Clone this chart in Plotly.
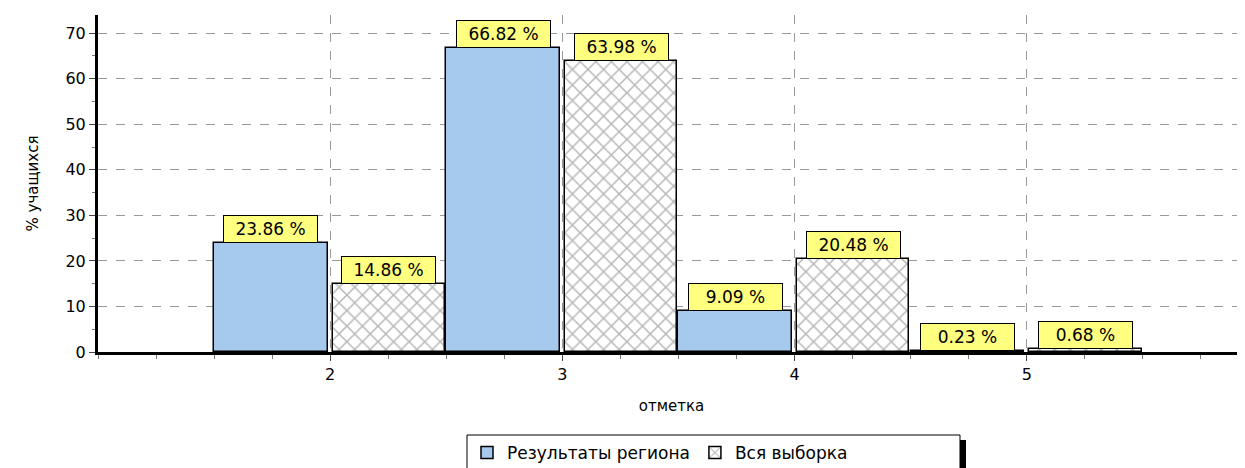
import plotly.graph_objects as go

categories = [2, 3, 4, 5]
region_values = [23.86, 66.82, 9.09, 0.23]
sample_values = [14.86, 63.98, 20.48, 0.68]
region_name = "Результаты региона"
sample_name = "Вся выборка"
y_ticks = [0, 10, 20, 30, 40, 50, 60, 70]

FONT = "DejaVu Sans, Liberation Sans, Arial, sans-serif"
BAR_W = 0.49
OFF = 8  # page body margin
W, H = 1245 - OFF, 468 - OFF
L, T = 98 - OFF, 15 - OFF
Y0 = 352 - OFF  # bottom of plot area in figure px
B = H - Y0
PW, PH = W - L, Y0 - T


def px_x(sx):
    return (sx - OFF - L) / PW


def px_y(sy):
    return (Y0 - (sy - OFF)) / PH


fig = go.Figure()
fig.add_trace(go.Bar(
    x=categories, y=region_values, name=region_name,
    width=BAR_W, offset=-0.5,
    marker=dict(color="#A6C9EE", line=dict(color="black", width=1.5)),
))
fig.add_trace(go.Bar(
    x=categories, y=sample_values, name=sample_name,
    width=BAR_W - 0.005, offset=0.01,
    marker=dict(color="white", line=dict(color="black", width=1.5),
                pattern=dict(shape="x", fgcolor="#6e6e6e", bgcolor="white",
                             size=11, solidity=0.25)),
))


def add_label(xc, v):
    fig.add_annotation(x=xc, y=v, text=f"{v:.2f} %",
                       showarrow=False, yanchor="bottom", yshift=0,
                       bgcolor="#FFFF80", bordercolor="black", borderwidth=1,
                       borderpad=2, width=89, height=22,
                       font=dict(family=FONT, size=17, color="black"))


for c, v in zip(categories, region_values):
    add_label(c - 0.5 + BAR_W / 2, v)
for c, v in zip(categories, sample_values):
    add_label(c + 0.01 + (BAR_W - 0.005) / 2, v)

# legend frame and shadow
fig.add_shape(type="rect", xref="paper", yref="paper",
              x0=px_x(960), x1=px_x(966),
              y0=px_y(440), y1=px_y(480),
              fillcolor="black", line=dict(width=0), layer="below")
fig.add_shape(type="rect", xref="paper", yref="paper",
              x0=px_x(467), x1=px_x(960),
              y0=px_y(435), y1=px_y(480),
              fillcolor="white", line=dict(width=1, color="black"), layer="below")

fig.update_layout(
    width=W, height=H,
    margin=dict(l=L, r=0, t=T, b=B, autoexpand=False),
    paper_bgcolor="white", plot_bgcolor="white",
    font=dict(family=FONT, size=15, color="black"),
    barmode="overlay",
    bargap=0,
    showlegend=True,
    legend=dict(orientation="h", x=px_x(467), xanchor="left",
                y=px_y(435), yanchor="top",
                borderwidth=0, bgcolor="rgba(0,0,0,0)",
                font=dict(family=FONT, size=17), itemwidth=30,
                tracegroupgap=0),
    xaxis=dict(range=[1, 5.94], tickvals=categories, ticktext=[str(c) for c in categories],
               ticks="outside", ticklen=6, tickcolor="#444",
               showline=True, linecolor="black", linewidth=3,
               showgrid=True, gridcolor="#999", griddash="dash", gridwidth=1,
               minor=dict(dtick=0.25, tick0=1, ticks="outside", ticklen=4, tickcolor="#777", showgrid=False),
               zeroline=False, automargin=False,
               title=dict(text="отметка", font=dict(size=15), standoff=18),
               tickfont=dict(size=16)),
    yaxis=dict(range=[0, 74], tickvals=y_ticks,
               ticks="outside", ticklen=6, tickcolor="#444",
               showline=True, linecolor="black", linewidth=3,
               showgrid=True, gridcolor="#999", griddash="dash", gridwidth=1,
               minor=dict(dtick=5, ticks="outside", ticklen=3, tickcolor="#777", showgrid=False),
               zeroline=False, automargin=False,
               title=dict(text="% учащихся", font=dict(size=15), standoff=24),
               tickfont=dict(size=16)),
)

fig.write_html("out.html")
